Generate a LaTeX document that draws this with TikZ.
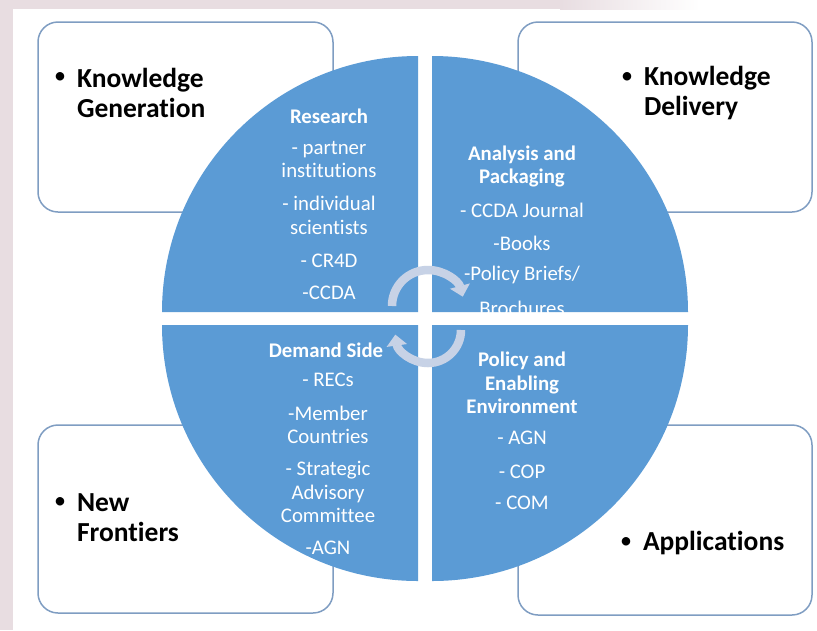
\documentclass[tikz,border=0pt]{standalone}
\usepackage{fontspec}
\setmainfont{Carlito}[Ligatures={TeX,NoCommon}]
\usetikzlibrary{arrows.meta}
\definecolor{quadblue}{HTML}{5B9BD5}
\definecolor{boxline}{HTML}{7F9DC2}
\definecolor{bgpink}{HTML}{E8DDE1}
\definecolor{arrowfill}{HTML}{C7D2E6}
\begin{document}
\begin{tikzpicture}[x=1pt, y=-1pt]
\tikzset{ inner sep=0pt, outer sep=0pt,
  box/.style={draw=boxline, line width=1.5pt, rounded corners=20pt, fill=white},
  quad/.style={fill=quadblue},
  qtext/.style={text=white, align=center, font=\fontsize{20.8}{23.5}\selectfont},
  qhead/.style={qtext, font=\fontsize{20.8}{23.5}\selectfont\bfseries},
  btext/.style={anchor=west, align=left, font=\fontsize{27.5}{30}\selectfont\bfseries},
  bul/.style={font=\fontsize{24}{30}\selectfont},
  cycarrow/.style={draw=arrowfill, line width=8.5pt, -{Triangle[width=20pt,length=11pt]}},
}

\useasboundingbox (0,0) rectangle (817,630);
\fill [white] (0,0) rectangle (817,630);
\fill [bgpink] (0,0) rectangle (13,630);
\fill [bgpink] (13,0) rectangle (560,9);
\shade [left color=bgpink, right color=white] (560,0) rectangle (700,9);

%\draw [lightgray, dashed] (0,0) grid [step=50] (817,630);

\draw [box] (38,22)  rectangle (333,212);
\draw [box] (518,22) rectangle (812,212);
\draw [box] (38,425) rectangle (333,613);
\draw [box] (518,425) rectangle (812,615);

\node [bul]   (KGb) at (60,78)  {\textbullet};
\node [btext] (KG)  at (77,93)  {Knowledge\\Generation};
\node [bul]   (KDb) at (627,78) {\textbullet};
\node [btext] (KD)  at (644,93) {Knowledge\\Delivery};
\node [bul]   (NFb) at (60,503) {\textbullet};
\node [btext] (NF)  at (77,518) {New\\Frontiers};
\node [bul]   (APb) at (626,543) {\textbullet};
\node [btext] (APP) at (643,543) {Applications};

\fill [quad] (418,312) -- ++(-256,0) arc [start angle=180, end angle=270, radius=256] -- cycle;
\fill [quad] (432,312) -- ++(0,-256) arc [start angle=270, end angle=360, radius=256] -- cycle;
\fill [quad] (418,325) -- ++(-256,0) arc [start angle=180, end angle=90,  radius=256] -- cycle;
\fill [quad] (432,325) -- ++(256,0)  arc [start angle=0,   end angle=90,  radius=256] -- cycle;

\node [qhead] (RS)  at (329,116)   {Research};
\node [qtext] (RS1) at (329,159.5) {- partner\\institutions};
\node [qtext] (RS2) at (329,215.5) {- individual\\scientists};
\node [qtext] (RS3) at (329,261)   {- CR4D};
\node [qtext] (RS4) at (329,293)   {-CCDA};

\begin{scope}
\clip (432,312) -- ++(0,-256) arc [start angle=270, end angle=360, radius=256] -- cycle;
\node [qhead] (AP)  at (522,166.5) {Analysis and\\Packaging};
\node [qtext] (AP1) at (522,210)   {- CCDA Journal};
\node [qtext] (AP2) at (522,243)   {-Books};
\node [qtext] (AP3) at (522,275)   {-Policy Briefs/};
\node [qtext] (AP4) at (522,308)   {Brochures};
\end{scope}

\node [qhead] (DS)  at (326,350) {Demand Side};
\node [qtext] (DS1) at (328,380) {- RECs};
\node [qtext] (DS2) at (328,425) {-Member\\Countries};
\node [qtext] (DS3) at (328,492) {- Strategic\\Advisory\\Committee};
\node [qtext] (DS4) at (328,548) {-AGN};

\node [qhead] (PE)  at (522,383) {Policy and\\Enabling\\Environment};
\node [qtext] (PE1) at (522,438) {- AGN};
\node [qtext] (PE2) at (522,472) {- COP};
\node [qtext] (PE3) at (522,503) {- COM};

\draw [cycarrow] (392,306) arc [start angle=180, end angle=345, radius=36];
\draw [cycarrow] (461,330) arc [start angle=0,   end angle=172, radius=33];

\end{tikzpicture}
\end{document}
